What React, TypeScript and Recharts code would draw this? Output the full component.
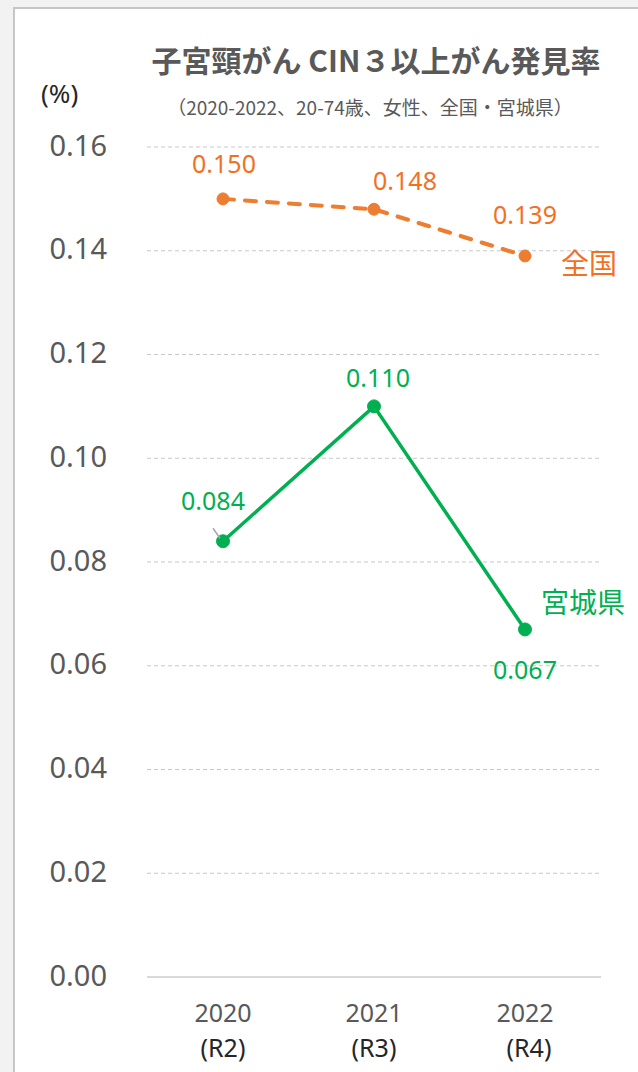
import React from "react";
import { LineChart, Line, XAxis, YAxis, CartesianGrid, LabelList } from "recharts";

const years = ["2020", "2021", "2022"];
const eras = ["(R2)", "(R3)", "(R4)"];
const nationalValues = [0.150, 0.148, 0.139];
const miyagiValues = [0.084, 0.110, 0.067];
const yTicks = [0, 0.02, 0.04, 0.06, 0.08, 0.1, 0.12, 0.14, 0.16];
const nationalName = "全国";
const miyagiName = "宮城県";
const titleText = "子宮頸がん CIN３以上がん発見率";
const subtitleText = "（2020-2022、20-74歳、女性、全国・宮城県）";
const unitText = "(%)";

const data = years.map((y, i) => ({
  year: y,
  era: eras[i],
  national: nationalValues[i],
  miyagi: miyagiValues[i],
}));

const FONT = "'Noto Sans', 'Noto Sans CJK JP', sans-serif";
const CJK = "'Noto Sans CJK JP', 'Noto Sans', sans-serif";
const ORANGE_LINE = "#ED7D31";
const ORANGE_TEXT = "#F4701F";
const GREEN = "#00B050";
const GRAY_TEXT = "#595959";

const nationalLabelOffsets = [
  [1, -36],
  [31, -29],
  [0, -42],
];
const miyagiLabelOffsets = [
  [-10, -41],
  [4, -29],
  [0, 40],
];

const makeLabel =
  (offsets: number[][], color: string, name: string, nameOffset: number[], leader: boolean) =>
  (props: any) => {
    const { x, y, value, index } = props;
    if (x == null || y == null) return null;
    const [dx, dy] = offsets[index];
    return (
      <g>
        {leader && index === 0 ? (
          <line x1={x - 10} y1={y - 13} x2={x - 3} y2={y - 3} stroke="#a6a6a6" strokeWidth={1.5} />
        ) : null}
        <text
          x={x + dx}
          y={y + dy}
          textAnchor="middle"
          dominantBaseline="central"
          fill={color}
          fontFamily={FONT}
          fontSize={25}
        >
          {Number(value).toFixed(3)}
        </text>
        {index === years.length - 1 ? (
          <text
            x={x + nameOffset[0]}
            y={y + nameOffset[1]}
            textAnchor="start"
            dominantBaseline="central"
            fill={color}
            fontFamily={CJK}
            fontSize={28}
          >
            {name}
          </text>
        ) : null}
      </g>
    );
  };

const XTick = (props: any) => {
  const { x, y, payload, index } = props;
  return (
    <g>
      <text
        x={x}
        y={y + 27}
        textAnchor="middle"
        dominantBaseline="central"
        fill={GRAY_TEXT}
        fontFamily={FONT}
        fontSize={25}
      >
        {payload.value}
      </text>
      <text
        x={x + (index === 2 ? 4 : 0)}
        y={y + 62}
        textAnchor="middle"
        dominantBaseline="central"
        fill="#262626"
        fontFamily={FONT}
        fontSize={25}
      >
        {eras[index]}
      </text>
    </g>
  );
};

const YTick = (props: any) => {
  const { x, y, payload } = props;
  return (
    <text
      x={x}
      y={y - 3}
      textAnchor="end"
      dominantBaseline="central"
      fill={GRAY_TEXT}
      fontFamily={FONT}
      fontSize={29}
    >
      {Number(payload.value).toFixed(2)}
    </text>
  );
};

export default function App() {
  return (
    <div
      style={{
        position: "absolute",
        left: 0,
        top: 0,
        width: 638,
        height: 1072,
        background: "#f2f2f2",
        overflow: "hidden",
      }}
    >
      <div
        style={{
          position: "absolute",
          left: 13,
          top: 7,
          width: 700,
          height: 1200,
          background: "#ffffff",
          borderLeft: "2px solid #c6c6c6",
          borderTop: "2px solid #c6c6c6",
        }}
      />
      <div style={{ position: "absolute", left: 0, top: 0 }}>
        <LineChart
          width={638}
          height={1072}
          data={data}
          margin={{ top: 147, right: 37, bottom: 0, left: 0 }}
        >
          <CartesianGrid
            vertical={false}
            stroke="#c8c8c8"
            strokeDasharray="4 3"
            strokeWidth={1}
          />
          <XAxis
            dataKey="year"
            height={95}
            axisLine={{ stroke: "#d9d9d9", strokeWidth: 2 }}
            tickLine={false}
            padding={{ left: 76, right: 76 }}
            tick={<XTick />}
            interval={0}
          />
          <YAxis
            width={147}
            domain={[0, 0.16]}
            ticks={yTicks}
            axisLine={false}
            tickLine={false}
            tickSize={0}
            tickMargin={40}
            tick={<YTick />}
            interval={0}
          />
          <Line
            dataKey="national"
            stroke={ORANGE_LINE}
            strokeWidth={4}
            strokeDasharray="11 11"
            strokeLinecap="round"
            dot={{ r: 6, fill: ORANGE_LINE, stroke: ORANGE_LINE, strokeWidth: 1, strokeDasharray: "" }}
            activeDot={false}
            isAnimationActive={false}
          >
            <LabelList
              dataKey="national"
              content={makeLabel(nationalLabelOffsets, ORANGE_TEXT, nationalName, [36, 6], false)}
            />
          </Line>
          <Line
            dataKey="miyagi"
            stroke={GREEN}
            strokeWidth={3.5}
            dot={{ r: 6.5, fill: GREEN, stroke: GREEN, strokeWidth: 1 }}
            activeDot={false}
            isAnimationActive={false}
          >
            <LabelList
              dataKey="miyagi"
              content={makeLabel(miyagiLabelOffsets, GREEN, miyagiName, [16, -28], true)}
            />
          </Line>
        </LineChart>
      </div>
      <div
        style={{
          position: "absolute",
          left: 76,
          width: 600,
          top: 37,
          textAlign: "center",
          fontFamily: CJK,
          fontWeight: 700,
          fontSize: 30,
          lineHeight: "44px",
          color: GRAY_TEXT,
          whiteSpace: "nowrap",
        }}
      >
        {titleText}
      </div>
      <div
        style={{
          position: "absolute",
          left: 70,
          width: 600,
          top: 93,
          textAlign: "center",
          fontFamily: CJK,
          fontSize: 19,
          lineHeight: "28px",
          color: GRAY_TEXT,
          whiteSpace: "nowrap",
        }}
      >
        {subtitleText}
      </div>
      <div
        style={{
          position: "absolute",
          left: 41,
          top: 76,
          fontFamily: FONT,
          fontSize: 26,
          lineHeight: "34px",
          color: "#262626",
          whiteSpace: "nowrap",
        }}
      >
        {unitText}
      </div>
    </div>
  );
}
